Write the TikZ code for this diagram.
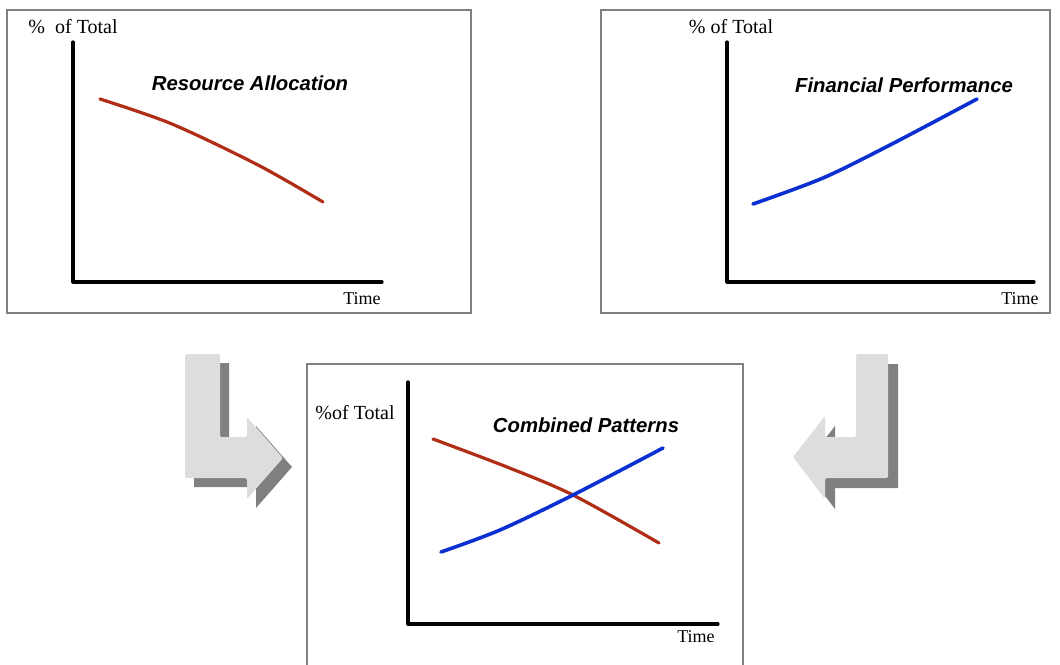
\documentclass[tikz,border=0pt]{standalone}
\usepackage{fontspec}
\setmainfont{Liberation Serif}
\newfontfamily\titlefont{Liberation Sans}
\begin{document}
\begin{tikzpicture}[x=1pt,y=-1pt,
  frame/.style={draw=black!50,line width=1.5pt},
  axis/.style={draw=black,line width=3.2pt,line cap=round,line join=round},
  redline/.style={draw=trendred,line width=3.2pt,line cap=round,line join=round},
  blueline/.style={draw=trendblue,line width=3.6pt,line cap=round,line join=round},
  axlabel/.style={font=\fontsize{20}{24}\selectfont,inner sep=0pt},
  timelabel/.style={font=\fontsize{18}{22}\selectfont,inner sep=0pt},
  charttitle/.style={font=\titlefont\bfseries\itshape\fontsize{20.3}{24}\selectfont,inner sep=0pt},
  arrowface/.style={fill=arrowlight,rounded corners=1.5pt},
  arrowshade/.style={fill=arrowdark}]
\definecolor{trendred}{HTML}{B02E16}
\definecolor{trendblue}{HTML}{0A30D2}
\definecolor{arrowlight}{HTML}{DDDDDD}
\definecolor{arrowdark}{HTML}{808080}
\useasboundingbox (0,0) rectangle (1060,664);

% ---- chart 1: resource allocation ----
\draw[frame] (7,10) rectangle (471,313);
\draw[axis] (73,42) -- (73,282) -- (382,282);
\draw[redline] plot[smooth,tension=0.5] coordinates {(100,99) (172,124) (258,165) (323,202)};
\node[axlabel] (p1) at (73,27) {\%~ of Total};
\node[charttitle] (t1) at (250,83) {Resource Allocation};
\node[timelabel] (x1) at (362,299) {Time};

% ---- chart 2: financial performance ----
\draw[frame] (601,10) rectangle (1050,313);
\draw[axis] (727,42) -- (727,282) -- (1034,282);
\draw[blueline] plot[smooth,tension=0.5] coordinates {(753,204) (823,178) (890,145) (977,99)};
\node[axlabel] (p2) at (731,27) {\% of Total};
\node[charttitle] (t2) at (904,85) {Financial Performance};
\node[timelabel] (x2) at (1020,299) {Time};

% ---- chart 3: combined patterns ----
\draw[frame] (307,666) -- (307,364) -- (743,364) -- (743,666);
\draw[axis] (408,382) -- (408,624) -- (718,624);
\draw[redline] plot[smooth,tension=0.5] coordinates {(433,439) (507,467) (573,495) (659,543)};
\draw[blueline] plot[smooth,tension=0.5] coordinates {(441,552) (500,530) (573,495) (663,448)};
\node[axlabel] (p3) at (355,413) {\%of Total};
\node[charttitle] (t3) at (586,425) {Combined Patterns};
\node[timelabel] (x3) at (696,637) {Time};

% ---- left bent arrow ----
\begin{scope}[shift={(9,9)}]
  \fill[arrowshade] (185,354) -- (220,354) -- (220,437) -- (247,437) -- (247,417)
    -- (283,458) -- (247,499) -- (247,478) -- (185,478) -- cycle;
\end{scope}
\fill[arrowface] (185,354) -- (220,354) -- (220,437) -- (247,437) -- (247,417)
  -- (283,458) -- (247,499) -- (247,478) -- (185,478) -- cycle;

% ---- right bent arrow ----
\begin{scope}[shift={(10,10)}]
  \fill[arrowshade] (888,354) -- (856,354) -- (856,437) -- (825,437) -- (825,416)
    -- (793,457) -- (825,499) -- (825,478) -- (888,478) -- cycle;
\end{scope}
\fill[arrowface] (888,354) -- (856,354) -- (856,437) -- (825,437) -- (825,416)
  -- (793,457) -- (825,499) -- (825,478) -- (888,478) -- cycle;
\end{tikzpicture}
\end{document}
